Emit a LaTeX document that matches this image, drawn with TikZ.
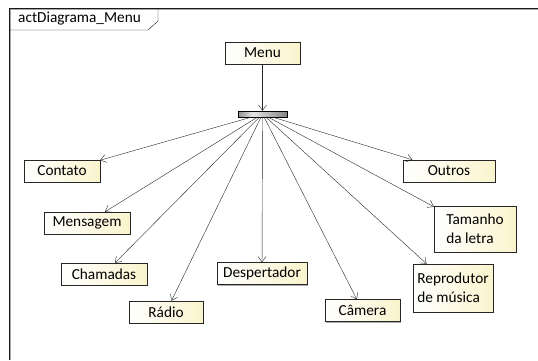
\documentclass[tikz,border=0pt]{standalone}
\usepackage{fontspec}
\setmainfont{Carlito}
\usetikzlibrary{positioning,arrows.meta,shadows}

\definecolor{boxcream}{RGB}{250,244,205}
\pgfdeclarehorizontalshading{forkbar}{100bp}{color(0bp)=(black); color(40bp)=(black!10); color(100bp)=(black!75)}

\begin{document}
\begin{tikzpicture}[x=1pt,y=-1pt]
\useasboundingbox (0,0) rectangle (538,360);

% frame
\draw[black!35,line width=1pt] (10.6,360) -- (10.6,9.6) -- (538,9.6);
\draw[black!90,line width=1pt] (9,360) -- (9,8) -- (538,8);
\draw[black!90,thin] (9,30) -- (148,30) -- (158,21) -- (158,8);
\node[anchor=west,inner sep=0pt,font=\fontsize{15.3}{19}\selectfont] (title) at (18,19) {actDiagrama\_Menu};

\begin{scope}[every node/.style={rectangle,draw=black!85,thin,inner sep=0pt,
              left color=white,right color=boxcream,
              drop shadow={shadow xshift=1.2pt,shadow yshift=-1.2pt,fill=black!45,opacity=0.7},
              minimum height=22pt,align=left,font=\fontsize{15.3}{19}\selectfont}]
    \node[minimum width=75pt] (menu) at (262.5,53) {Menu};
    \node[minimum width=76pt] (contato) at (62,171) {Contato};
    \node[minimum width=86pt] (mensagem) at (87,223) {Mensagem};
    \node[minimum width=86pt] (chamadas) at (104,274) {Chamadas};
    \node[minimum width=74pt] (radio) at (166,312) {Rádio};
    \node[minimum width=90pt] (despertador) at (262,273.5) {Despertador};
    \node[minimum width=75pt] (camera) at (362.5,310.5) {Câmera};
    \node[minimum width=80pt,minimum height=48pt] (reprodutor) at (453,288) {Reprodutor\\de música};
    \node[minimum width=82pt,minimum height=46pt] (tamanho) at (475,229) {Tamanho\\da letra};
    \node[minimum width=92pt] (outros) at (449,171) {Outros};
\end{scope}

% fork bar
\node[rectangle,draw=black,thin,inner sep=0pt,minimum width=49pt,minimum height=6pt,
      shading=forkbar] (fork) at (262.5,114) {};

\begin{scope}[>={Straight Barb[length=5.5pt,width=8pt]},
              every edge/.style={draw=black!85,thin}]
    \path [->] (menu) edge (fork);
    \path [->] (fork) edge (contato);
    \path [->] (fork) edge (mensagem);
    \path [->] (fork) edge (chamadas);
    \path [->] (fork) edge (radio);
    \path [->] (fork) edge (despertador);
    \path [->] (fork) edge (camera);
    \path [->] (fork) edge (reprodutor);
    \path [->] (fork) edge (tamanho);
    \path [->] (fork) edge (outros);
\end{scope}
\end{tikzpicture}
\end{document}
